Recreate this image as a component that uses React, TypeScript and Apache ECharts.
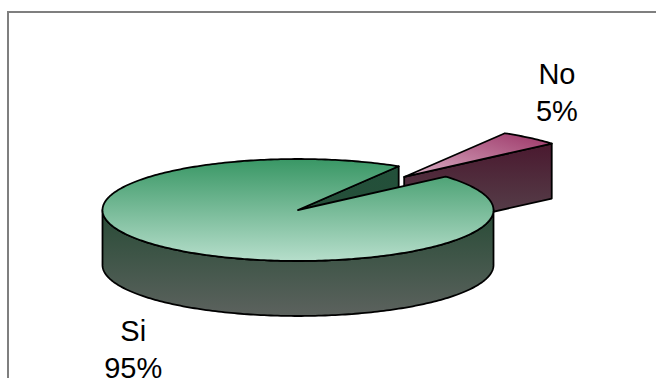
import React, { useEffect, useRef } from 'react';
import * as echarts from 'echarts';

// Survey answers
const categories = ['Si', 'No'];
const values = [95, 5];
// How far each slice is pulled out of the pie, as a share of the radius
const explode = [0, 0.845];

// Pie geometry (pixels)
const START_ANGLE = 59; // degrees, counter-clockwise from 3 o'clock
const CX = 298;
const CY = 210;
const RX = 195.5;
const RY = 51;
const DEPTH = 55;
const LABEL_RX = 247;
const LABEL_RY = 110;
const LABEL_SHIFT_X = -6;

const grad = (x2: number, y2: number, c0: string, c1: string, x0 = 0, y0 = 0) =>
  new echarts.graphic.LinearGradient(x0, y0, x2, y2, [
    { offset: 0, color: c0 },
    { offset: 1, color: c1 },
  ]);

const palettes = [
  {
    top: () => grad(0, 1, '#399765', '#b6decb'),
    side: () => grad(0, 1, '#284b36', '#5c625e'),
    cut: () => grad(0, 1, '#22503a', '#2a4d38'),
  },
  {
    top: () => grad(0, 1, '#9b3466', '#dbb1c6', 1, 0),
    side: () => grad(0, 1, '#4a192f', '#58474f'),
    cut: () => grad(0, 1, '#4a192f', '#58474f'),
  },
];

const rad = (d: number) => (d * Math.PI) / 180;

export default function App() {
  const ref = useRef<HTMLDivElement>(null);

  useEffect(() => {
    const el = ref.current;
    if (!el) return;
    const chart = echarts.init(el, null, { renderer: 'svg' });

    const total = values.reduce((a, b) => a + b, 0);
    const slices: { start: number; end: number; mid: number }[] = [];
    let acc = START_ANGLE;
    values.forEach((v) => {
      const span = (v / total) * 360;
      slices.push({ start: acc, end: acc + span, mid: acc + span / 2 });
      acc += span;
    });
    // back-to-front drawing rank: slices further back (higher sin) come first
    const order = slices
      .map((s, i) => ({ i, s: Math.sin(rad(s.mid)) }))
      .sort((a, b) => b.s - a.s)
      .map((o) => o.i);

    const renderItem = (params: any, api: any) => {
      const i = params.dataIndex;
      const sl = slices[i];
      const e = explode[i];
      const ox = CX + RX * e * Math.cos(rad(sl.mid));
      const oy = CY - RY * e * Math.sin(rad(sl.mid));
      const P = (a: number, dz = 0) => [ox + RX * Math.cos(rad(a)), oy - RY * Math.sin(rad(a)) + dz];
      const arc = (a0: number, a1: number, dz = 0) => {
        const pts: number[][] = [];
        const n = Math.max(2, Math.ceil(Math.abs(a1 - a0)));
        for (let k = 0; k <= n; k++) pts.push(P(a0 + ((a1 - a0) * k) / n, dz));
        return pts;
      };
      const pal = palettes[i];
      const base = order.indexOf(i) * 10;
      const stroke = { stroke: '#000', lineWidth: 1.8, lineJoin: 'round' };
      const children: any[] = [];

      // radial cut faces that look towards the viewer
      const cutFace = (a: number) => ({
        type: 'polygon',
        z2: base + 1,
        shape: { points: [[ox, oy], P(a), P(a, DEPTH), [ox, oy + DEPTH]] },
        style: { fill: pal.cut(), ...stroke },
      });
      if (Math.cos(rad(sl.start)) > 0) children.push(cutFace(sl.start));
      if (Math.cos(rad(sl.end)) < 0) children.push(cutFace(sl.end));

      // front part of the outer wall
      for (let k = -1; k <= 1; k++) {
        const lo = Math.max(sl.start, 180 + 360 * k);
        const hi = Math.min(sl.end, 360 + 360 * k);
        if (hi > lo) {
          children.push({
            type: 'polygon',
            z2: base + 2,
            shape: { points: [...arc(lo, hi), ...arc(hi, lo, DEPTH)] },
            style: { fill: pal.side(), ...stroke },
          });
        }
      }

      // top face
      children.push({
        type: 'polygon',
        z2: base + 3,
        shape: { points: [[ox, oy], ...arc(sl.start, sl.end)] },
        style: { fill: pal.top(), ...stroke },
      });

      // category and share label outside the slice
      const c = Math.cos(rad(sl.mid));
      const s = Math.sin(rad(sl.mid));
      const lx = ox + LABEL_RX * c + LABEL_SHIFT_X;
      const ly = oy - LABEL_RY * s + (s < 0 ? DEPTH : 0);
      const pct = Math.round((api.value(0) / total) * 100);
      children.push({
        type: 'text',
        z2: 100,
        style: {
          text: `${categories[i]}\n${pct}%`,
          x: lx,
          y: ly,
          align: 'center',
          verticalAlign: 'middle',
          fontSize: 29,
          lineHeight: 37,
          fontFamily: '"Liberation Sans", Arial, sans-serif',
          fill: '#000',
        },
      });

      return { type: 'group', children };
    };

    chart.setOption({
      animation: false,
      backgroundColor: '#ffffff',
      graphic: [
        {
          type: 'rect',
          silent: true,
          shape: { x: 8, y: 12, width: 700, height: 420 },
          style: { fill: 'none', stroke: '#7f7f7f', lineWidth: 2 },
        },
      ],
      series: [
        {
          type: 'custom',
          coordinateSystem: 'none',
          silent: true,
          renderItem,
          data: values.map((v, i) => ({ name: categories[i], value: [v] })),
        },
      ],
    });

    return () => chart.dispose();
  }, []);

  return (
    <div
      ref={ref}
      style={{ position: 'absolute', left: 0, top: 0, width: 656, height: 378 }}
    />
  );
}
